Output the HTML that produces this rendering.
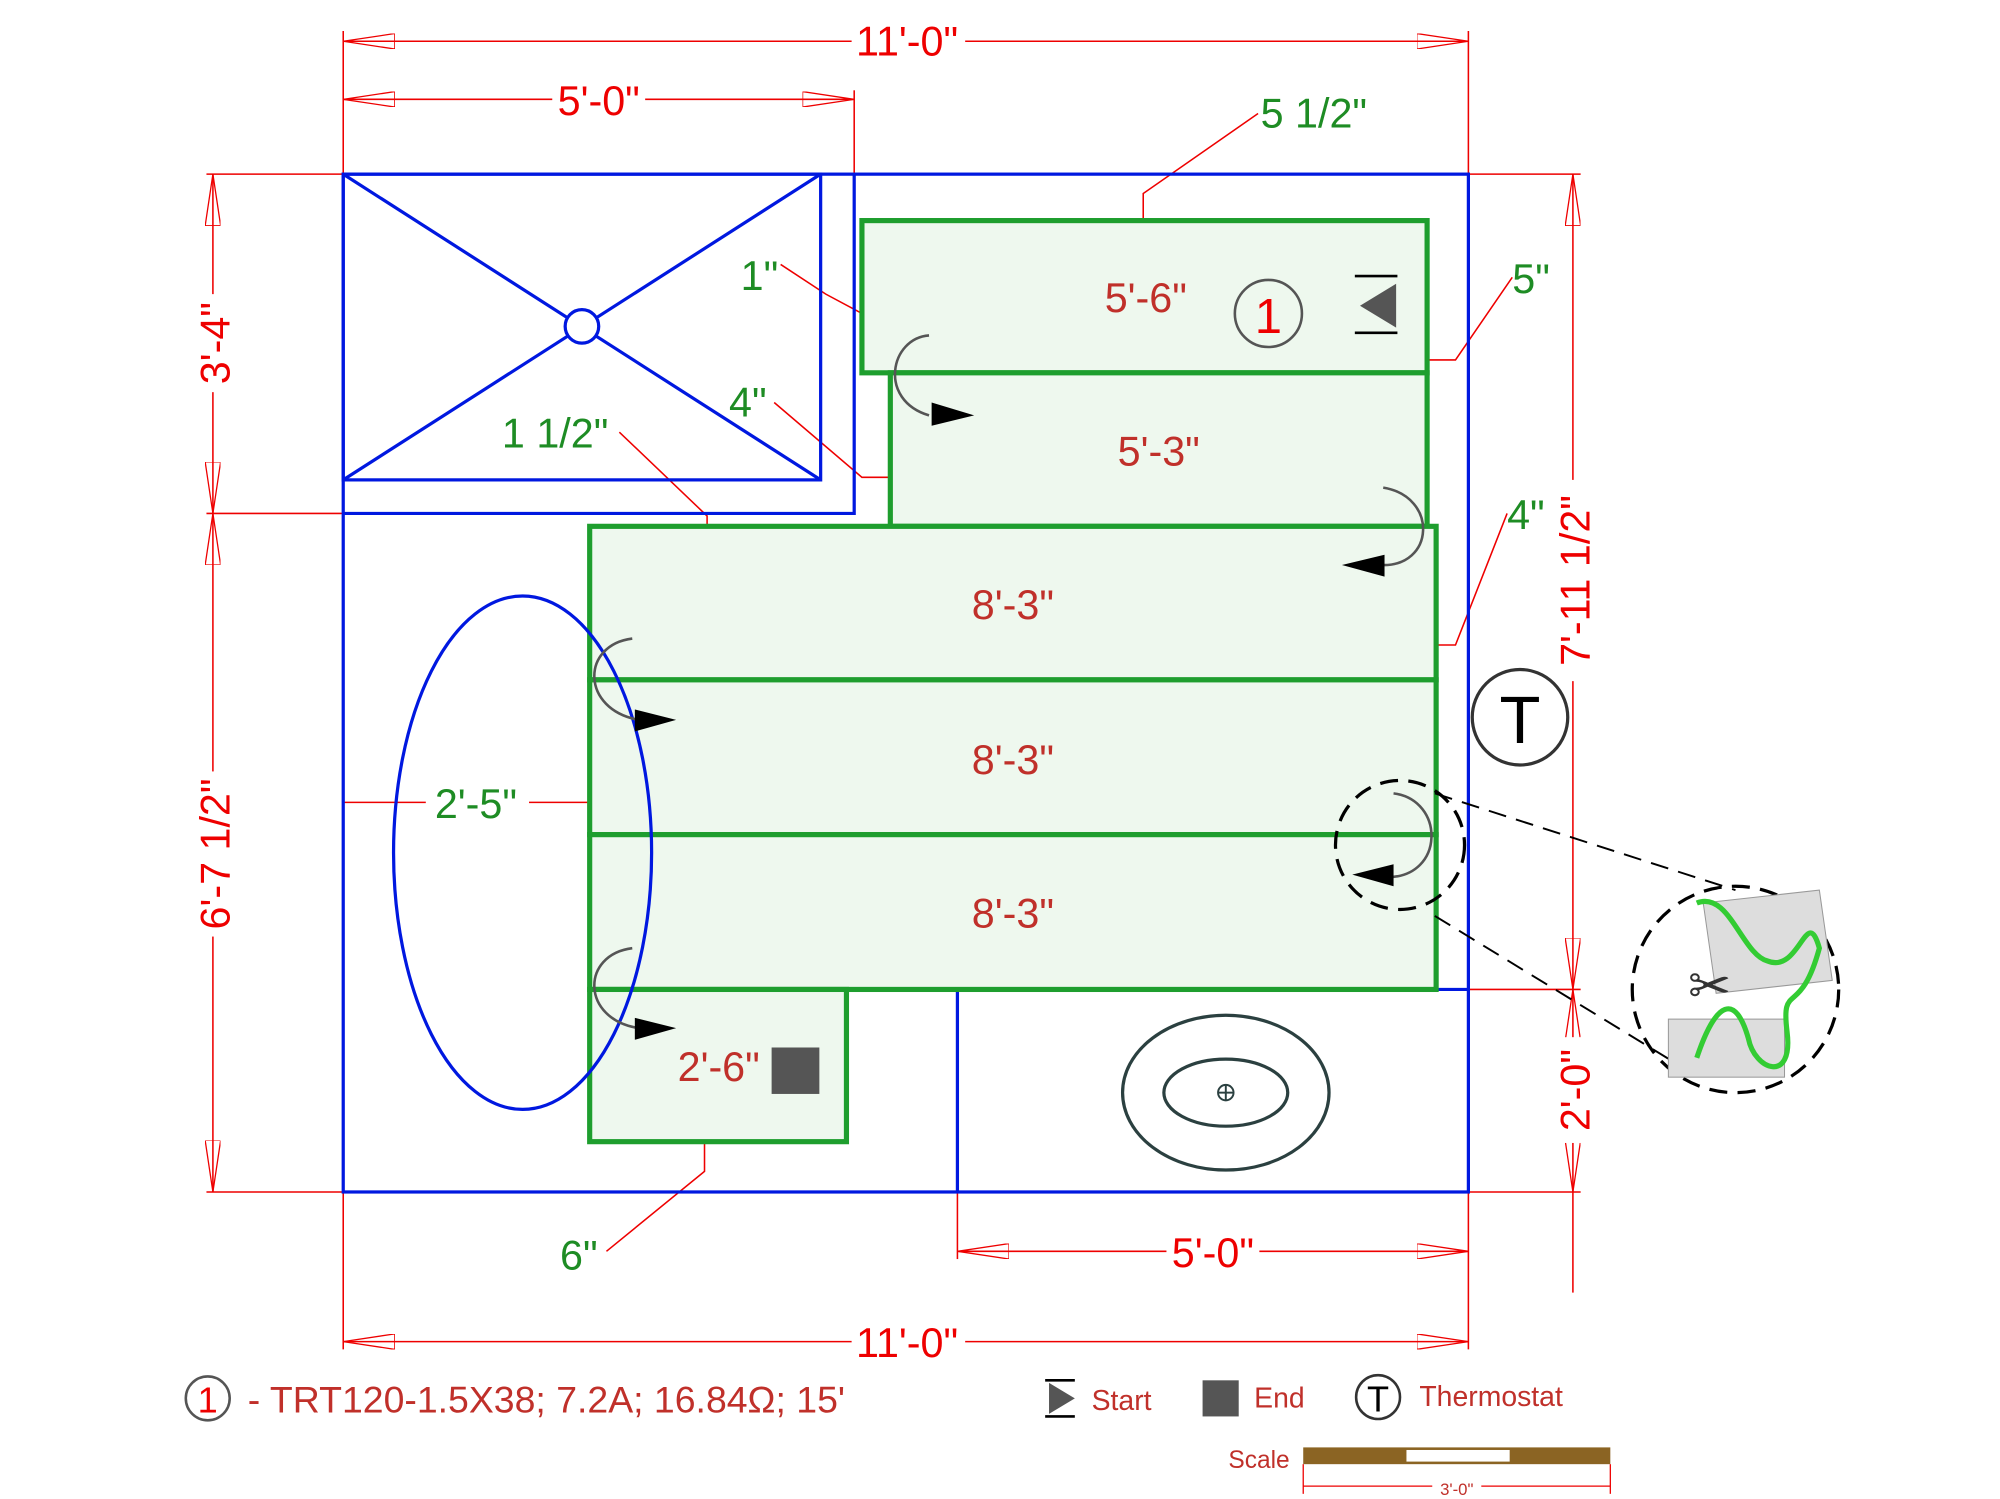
<!DOCTYPE html>
<html><head><meta charset="utf-8"><style>
html,body{margin:0;padding:0;background:#fff;}
svg{display:block;}
text{font-family:"Liberation Sans",sans-serif;}
</style></head><body>
<svg width="2000" height="1499" viewBox="0 0 1550 1162" preserveAspectRatio="none" xmlns="http://www.w3.org/2000/svg">
<defs>
<marker id="oa" viewBox="0 0 40 12" refX="40" refY="6" markerWidth="40" markerHeight="12" markerUnits="userSpaceOnUse" orient="auto-start-reverse">
<polygon points="40,6 0,0 0,12" fill="none" stroke="#e00" stroke-width="1"/></marker>
</defs>
<g stroke="#e00" stroke-width="1.2" fill="none">
<line x1="266" y1="32" x2="1138" y2="32" marker-start="url(#oa)" marker-end="url(#oa)"/>
<line x1="266" y1="77" x2="662" y2="77" marker-start="url(#oa)" marker-end="url(#oa)"/>
<line x1="266" y1="24" x2="266" y2="135"/><line x1="1138" y1="24" x2="1138" y2="135"/><line x1="662" y1="70" x2="662" y2="135"/>
<line x1="165" y1="135" x2="165" y2="398" marker-start="url(#oa)" marker-end="url(#oa)"/>
<line x1="165" y1="398" x2="165" y2="924" marker-start="url(#oa)" marker-end="url(#oa)"/>
<line x1="160" y1="135" x2="266" y2="135"/><line x1="160" y1="398" x2="266" y2="398"/><line x1="160" y1="924" x2="266" y2="924"/>
<line x1="1219" y1="135" x2="1219" y2="767" marker-start="url(#oa)" marker-end="url(#oa)"/>
<line x1="1219" y1="767" x2="1219" y2="924" marker-start="url(#oa)" marker-end="url(#oa)"/>
<line x1="1219" y1="924" x2="1219" y2="1002"/>
<line x1="1138" y1="135" x2="1225" y2="135"/><line x1="1113" y1="767" x2="1225" y2="767"/><line x1="1138" y1="924" x2="1225" y2="924"/>
<line x1="742" y1="970" x2="1138" y2="970" marker-start="url(#oa)" marker-end="url(#oa)"/>
<line x1="266" y1="1040" x2="1138" y2="1040" marker-start="url(#oa)" marker-end="url(#oa)"/>
<line x1="266" y1="924" x2="266" y2="1046"/><line x1="1138" y1="924" x2="1138" y2="1046"/><line x1="742" y1="924" x2="742" y2="976"/>
<polyline points="886,171 886,150 975,88"/>
<polyline points="668,243 640,228 605,205"/>
<polyline points="690,370 668,370 600,312"/>
<polyline points="548,408 548,400 480,335"/>
<polyline points="1106,279 1128,279 1172,215"/>
<polyline points="1113,500 1128,500 1168,398"/>
<polyline points="266,622 330,622"/><polyline points="410,622 457,622"/>
<polyline points="546,885 546,908 470,970"/>
</g>
<!-- white gaps behind dimension texts -->
<g fill="#fff">
<rect x="660" y="18" width="88" height="28"/>
<rect x="428" y="63" width="72" height="28"/>
<rect x="904" y="956" width="72" height="28"/>
<rect x="660" y="1026" width="88" height="28"/>
<rect x="151" y="228" width="28" height="76"/>
<rect x="151" y="598" width="28" height="128"/>
<rect x="1205" y="372" width="28" height="156"/>
<rect x="1205" y="804" width="28" height="82"/>
</g>
<g stroke="#0018e0" stroke-width="2.5" fill="none">
<rect x="266" y="135" width="872" height="789"/>
<polyline points="266,398 662,398 662,135"/>
<rect x="266" y="135" width="370" height="237"/>
<line x1="266" y1="135" x2="636" y2="372"/><line x1="636" y1="135" x2="266" y2="372"/>
<circle cx="451" cy="253" r="13" fill="#fff"/>
<line x1="742" y1="767" x2="742" y2="924"/>
<line x1="1113" y1="767" x2="1138" y2="767"/>
</g>
<g stroke="#1e9e2e" stroke-width="4" fill="#eef8ee">
<rect x="668" y="171" width="438" height="118"/>
<rect x="690" y="289" width="416" height="119"/>
<rect x="457" y="408" width="656" height="119"/>
<rect x="457" y="527" width="656" height="120"/>
<rect x="457" y="647" width="656" height="120"/>
<rect x="457" y="767" width="199" height="118"/>
</g>
<ellipse cx="405" cy="661" rx="100" ry="199" fill="none" stroke="#0018e0" stroke-width="2.5"/>
<g stroke="#2b4040" stroke-width="2.5" fill="none">
<ellipse cx="950" cy="847" rx="80" ry="60"/>
<ellipse cx="950" cy="847" rx="48" ry="26"/>
<circle cx="950" cy="847" r="6" stroke-width="1.5"/>
<line x1="944" y1="847" x2="956" y2="847" stroke-width="1.5"/><line x1="950" y1="841" x2="950" y2="853" stroke-width="1.5"/>
</g>
<g stroke="#555" stroke-width="2" fill="none">
<path d="M720,260 C690,262 680,310 720,322"/>
<path d="M1072,378 C1115,385 1112,440 1070,438"/>
<path d="M490,495 C450,500 450,550 495,558"/>
<path d="M1080,615 C1120,620 1120,680 1075,680"/>
<path d="M490,735 C450,740 450,790 495,797"/>
</g>
<g fill="#000">
<polygon points="722,312 755,322 722,330"/>
<polygon points="1073,430 1040,438 1073,447"/>
<polygon points="492,550 524,558 492,567"/>
<polygon points="1080,670 1048,678 1080,687"/>
<polygon points="492,789 524,797 492,806"/>
</g>
<polygon points="1082,220 1054,237 1082,254" fill="#555"/>
<line x1="1050" y1="214" x2="1083" y2="214" stroke="#000" stroke-width="2"/>
<line x1="1050" y1="258" x2="1083" y2="258" stroke="#000" stroke-width="2"/>
<rect x="598" y="812" width="37" height="36" fill="#555"/>
<circle cx="983" cy="243" r="26" fill="none" stroke="#555" stroke-width="2"/>
<text x="983" y="258" font-size="38" fill="#e00" text-anchor="middle">1</text>
<circle cx="1178" cy="556" r="37" fill="#fff" stroke="#333" stroke-width="2.5"/>
<text x="1178" y="576" font-size="52" fill="#000" text-anchor="middle">T</text>
<g stroke="#000" stroke-width="1.5" fill="none" stroke-dasharray="14,8">
<circle cx="1085" cy="655" r="50" stroke-width="2.5"/>
<line x1="1112" y1="615" x2="1345" y2="690"/>
<line x1="1112" y1="710" x2="1300" y2="825"/>
<circle cx="1345" cy="767" r="80" stroke-width="2.5"/>
</g>
<g stroke="#999" stroke-width="0.8">
<polygon points="1320,700 1410,690 1420,760 1330,770" fill="#ddd"/>
<rect x="1293" y="790" width="90" height="45" fill="#ddd"/>
</g>
<path d="M1315,700 C1340,690 1350,740 1370,745 C1395,755 1400,700 1410,735 C1395,790 1380,760 1385,800 C1390,840 1360,830 1355,805 C1345,770 1330,775 1315,820" fill="none" stroke="#3c3" stroke-width="4"/>
<text x="1325" y="778" font-size="40" fill="#333" text-anchor="middle">✂</text>
<g font-size="32" fill="#e00" text-anchor="middle">
<text x="703" y="43">11'-0"</text>
<text x="464" y="89">5'-0"</text>
<text x="940" y="982">5'-0"</text>
<text x="703" y="1052">11'-0"</text>
<text transform="translate(178,266) rotate(-90)">3'-4"</text>
<text transform="translate(178,662) rotate(-90)">6'-7 1/2"</text>
<text transform="translate(1232,450) rotate(-90)">7'-11 1/2"</text>
<text transform="translate(1232,845) rotate(-90)">2'-0"</text>
</g>
<g font-size="32" fill="#c0302a" text-anchor="middle">
<text x="888" y="242">5'-6"</text>
<text x="898" y="361">5'-3"</text>
<text x="785" y="480">8'-3"</text>
<text x="785" y="600">8'-3"</text>
<text x="785" y="719">8'-3"</text>
<text x="557" y="838">2'-6"</text>
</g>
<g font-size="32" fill="#1e8c24">
<text x="977" y="99">5 1/2"</text>
<text x="574" y="225">1"</text>
<text x="565" y="323">4"</text>
<text x="389" y="347">1 1/2"</text>
<text x="1172" y="227">5"</text>
<text x="1168" y="410">4"</text>
<text x="337" y="634">2'-5"</text>
<text x="434" y="984">6"</text>
</g>
<circle cx="161" cy="1084" r="17" fill="none" stroke="#555" stroke-width="2"/>
<text x="161" y="1095" font-size="28" fill="#e00" text-anchor="middle">1</text>
<text x="192" y="1095" font-size="29" fill="#c0302a">- TRT120-1.5X38; 7.2A; 16.84Ω; 15'</text>
<polygon points="813,1072 833,1084 813,1096" fill="#555"/>
<line x1="810" y1="1070" x2="833" y2="1070" stroke="#000" stroke-width="2"/>
<line x1="810" y1="1098" x2="833" y2="1098" stroke="#000" stroke-width="2"/>
<text x="846" y="1093" font-size="22" fill="#c0302a">Start</text>
<rect x="932" y="1070" width="28" height="28" fill="#555"/>
<text x="972" y="1091" font-size="22" fill="#c0302a">End</text>
<circle cx="1068" cy="1083" r="17" fill="none" stroke="#333" stroke-width="2"/>
<text x="1068" y="1094" font-size="28" fill="#000" text-anchor="middle">T</text>
<text x="1100" y="1090" font-size="22" fill="#c0302a">Thermostat</text>
<text x="952" y="1138" font-size="19" fill="#c0302a">Scale</text>
<rect x="1010" y="1122" width="238" height="13" fill="#8b6423"/>
<rect x="1090" y="1124" width="80" height="9" fill="#fff"/>
<line x1="1010" y1="1135" x2="1010" y2="1158" stroke="#e00"/><line x1="1248" y1="1135" x2="1248" y2="1158" stroke="#e00"/>
<line x1="1010" y1="1152" x2="1248" y2="1152" stroke="#e00"/>
<rect x="1110" y="1146" width="38" height="14" fill="#fff"/>
<text x="1129" y="1159" font-size="13" fill="#c0302a" text-anchor="middle">3'-0"</text>
</svg>
</body></html>
